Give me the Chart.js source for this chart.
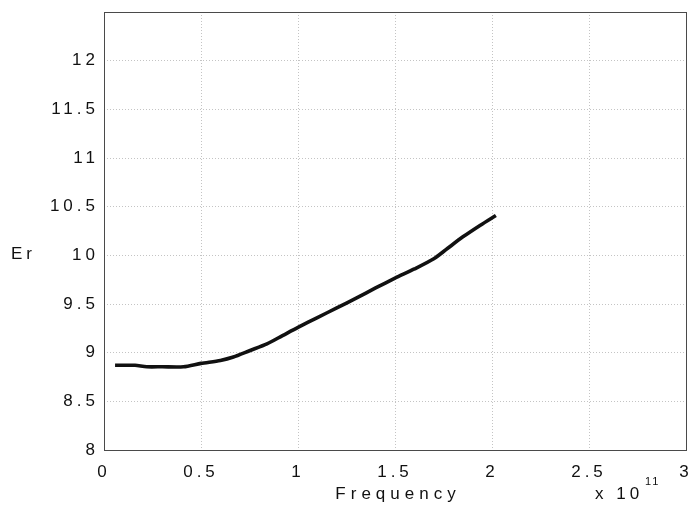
<!DOCTYPE html>
<html>
<head>
<meta charset="utf-8">
<script src="https://cdn.jsdelivr.net/npm/chart.js@4/dist/chart.umd.min.js"></script>
<style>
  html, body { margin: 0; padding: 0; background: #fff; }
  #wrap { width: 692px; height: 506px; }
</style>
</head>
<body>
<div id="wrap"><canvas id="c" width="692" height="506"></canvas></div>
<script>
// Relative permittivity against frequency (frequency in units of 1e11 Hz)
const frequency = [0.057, 0.10, 0.16, 0.22, 0.30, 0.41, 0.50, 0.60, 0.667, 0.75, 0.84, 0.92,
                   1.00, 1.10, 1.20, 1.30, 1.40, 1.50, 1.60, 1.70, 1.77, 1.85, 1.94, 2.02];
const er        = [8.87, 8.87, 8.87, 8.855, 8.855, 8.855, 8.89, 8.92, 8.955, 9.02, 9.09, 9.175,
                   9.26, 9.36, 9.46, 9.56, 9.665, 9.765, 9.86, 9.965, 10.07, 10.19, 10.31, 10.41];

const xTicks = [0, 0.5, 1, 1.5, 2, 2.5, 3];
const yTicks = [8, 8.5, 9, 9.5, 10, 10.5, 11, 11.5, 12, 12.5];
const yHidden = [12.5];

const xLabel = 'Frequency';
const yLabel = 'Er';
const expBase = 'x 10';
const expPower = '11';

const FONT = '"Liberation Sans", Arial, Helvetica, sans-serif';
const TEXT = '#111111';

const points = frequency.map((f, i) => ({ x: f, y: er[i] }));

const framePlugin = {
  id: 'frame',
  beforeDraw(chart) {
    const ctx = chart.ctx;
    ctx.save();
    ctx.fillStyle = '#ffffff';
    ctx.fillRect(0, 0, chart.width, chart.height);
    ctx.restore();
    ctx.letterSpacing = '4px';
  },
  afterDraw(chart) {
    const ctx = chart.ctx;
    const a = chart.chartArea;
    ctx.save();
    ctx.setLineDash([]);
    ctx.strokeStyle = '#4a4a4a';
    ctx.lineWidth = 1;
    ctx.strokeRect(Math.round(a.left) + 0.5, Math.round(a.top) + 0.5,
                   Math.round(a.right - a.left), Math.round(a.bottom - a.top));

    ctx.fillStyle = TEXT;
    ctx.textBaseline = 'middle';

    // x axis title
    ctx.letterSpacing = '5px';
    ctx.font = '17px ' + FONT;
    ctx.textAlign = 'center';
    ctx.fillText(xLabel, (a.left + a.right) / 2 + 3, 494);

    // y axis title, horizontal beside the 10 tick
    ctx.textAlign = 'left';
    ctx.letterSpacing = '4px';
    ctx.fillText(yLabel, 11, chart.scales.y.getPixelForValue(10) - 1);

    // exponent marker
    ctx.letterSpacing = '4px';
    ctx.fillText(expBase, 595, 494);
    ctx.font = '11px ' + FONT;
    ctx.letterSpacing = '2px';
    ctx.fillText(expPower, 645, 482);
    ctx.restore();
  }
};

new Chart(document.getElementById('c'), {
  type: 'line',
  data: {
    datasets: [{
      data: points,
      borderColor: '#111111',
      borderWidth: 3.6,
      pointRadius: 0,
      tension: 0.25,
      fill: false
    }]
  },
  options: {
    responsive: false,
    animation: false,
    events: [],
    layout: { autoPadding: false, padding: { left: 0, right: 6, top: 12, bottom: 0 } },
    plugins: { legend: { display: false }, tooltip: { enabled: false } },
    scales: {
      x: {
        type: 'linear',
        min: 0, max: 3,
        afterFit(s) { s.height = 56; s.paddingLeft = 0; s.paddingRight = 0; },
        afterBuildTicks(s) { s.ticks = xTicks.map(v => ({ value: v })); },
        ticks: {
          color: TEXT,
          font: { family: FONT, size: 17 },
          padding: 12,
          maxRotation: 0,
          autoSkip: false,
          callback: v => String(v)
        },
        grid: { color: '#c4c4c4', lineWidth: 1, drawTicks: false },
        border: { display: false, dash: [1, 2] }
      },
      y: {
        min: 8, max: 12.5,
        afterFit(s) { s.width = 104; s.paddingTop = 0; s.paddingBottom = 0; },
        afterBuildTicks(s) { s.ticks = yTicks.map(v => ({ value: v })); },
        ticks: {
          color: TEXT,
          font: { family: FONT, size: 17 },
          padding: 5,
          autoSkip: false,
          callback: v => (yHidden.includes(v) ? '' : String(v))
        },
        grid: { color: '#c4c4c4', lineWidth: 1, drawTicks: false },
        border: { display: false, dash: [1, 2] }
      }
    }
  },
  plugins: [framePlugin]
});
</script>
</body>
</html>
